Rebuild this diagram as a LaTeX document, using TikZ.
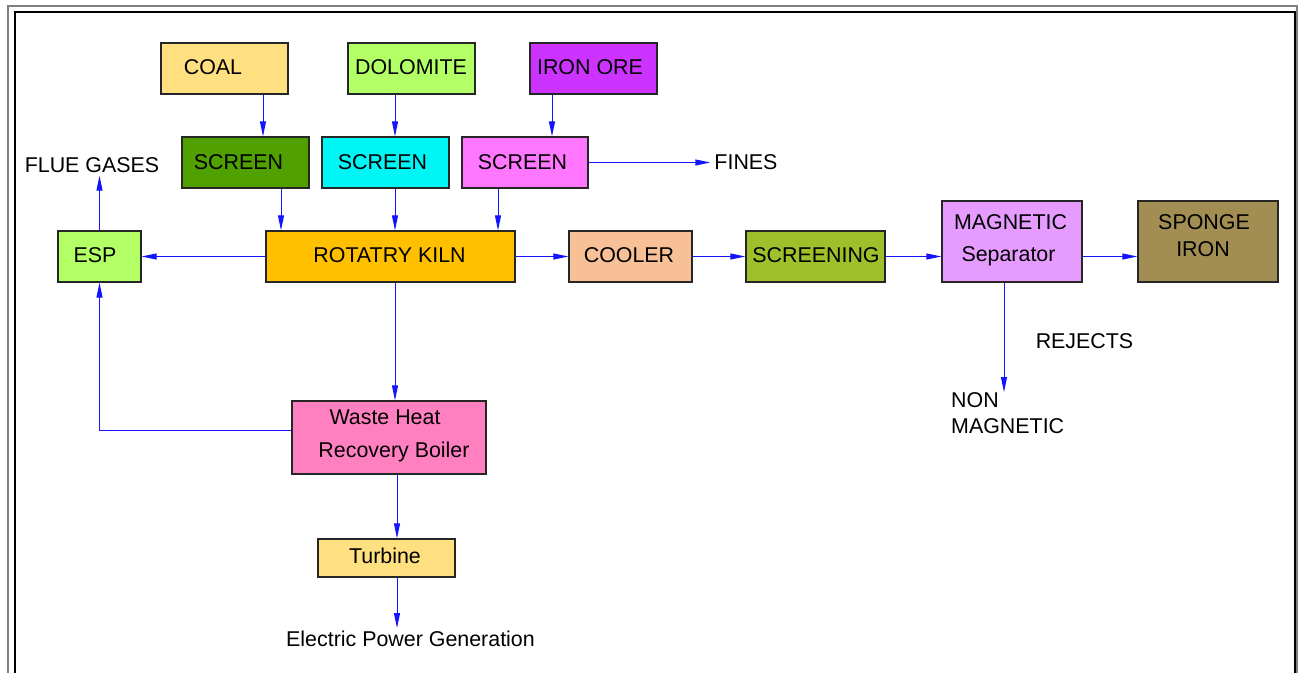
\documentclass[tikz,border=0pt]{standalone}
\usepackage{fontspec}
\setmainfont{Liberation Sans}
\usetikzlibrary{arrows.meta}
\definecolor{coalc}{RGB}{255,224,128}
\definecolor{doloc}{RGB}{178,255,102}
\definecolor{ironc}{RGB}{204,51,255}
\definecolor{scrA}{RGB}{80,160,0}
\definecolor{scrB}{RGB}{0,245,245}
\definecolor{scrC}{RGB}{255,119,255}
\definecolor{kilnc}{RGB}{255,192,0}
\definecolor{coolc}{RGB}{248,192,150}
\definecolor{scrnc}{RGB}{159,192,42}
\definecolor{magc}{RGB}{230,156,255}
\definecolor{spongec}{RGB}{162,142,82}
\definecolor{whrbc}{RGB}{255,128,192}
\definecolor{arrc}{RGB}{20,20,255}
\begin{document}
\begin{tikzpicture}[x=1pt,y=-1pt,
  box/.style={draw=black!85, line width=1.3pt, inner sep=0pt, rectangle},
  txt/.style={anchor=base, inner sep=0pt, font=\fontsize{21.4}{26}\selectfont},
  arr/.style={draw=arrc, line width=1pt, -{Triangle[length=15pt,width=6pt]}},
  ln/.style={draw=arrc, line width=1pt}]
\useasboundingbox (0,0) rectangle (1298,672);
\fill[white] (0,0) rectangle (1298,672);
% frame
\draw[draw=gray, line width=2pt] (8,6) rectangle (1297,700);
\draw[draw=black, line width=1.2pt] (15,12) rectangle (1295,700);
% boxes
\node[box, fill=coalc, minimum width=127pt, minimum height=51pt] (coal) at (224.5,68.5) {};
\node[box, fill=doloc, minimum width=127pt, minimum height=51pt] (dolo) at (411.5,68.5) {};
\node[box, fill=ironc, minimum width=127pt, minimum height=51pt] (iron) at (593.5,68.5) {};
\node[box, fill=scrA, minimum width=127pt, minimum height=51pt] (scra) at (245.5,162.5) {};
\node[box, fill=scrB, minimum width=127pt, minimum height=51pt] (scrb) at (385.5,162.5) {};
\node[box, fill=scrC, minimum width=126pt, minimum height=51pt] (scrc) at (525,162.5) {};
\node[box, fill=doloc, minimum width=83pt, minimum height=51pt] (esp) at (99.5,256.5) {};
\node[box, fill=kilnc, minimum width=249pt, minimum height=51pt] (kiln) at (390.5,256.5) {};
\node[box, fill=coolc, minimum width=123pt, minimum height=51pt] (cool) at (630.5,256.5) {};
\node[box, fill=scrnc, minimum width=139pt, minimum height=51pt] (scrn) at (815.5,256.5) {};
\node[box, fill=magc, minimum width=140pt, minimum height=81pt] (mag) at (1012,241.5) {};
\node[box, fill=spongec, minimum width=140pt, minimum height=81pt] (sponge) at (1208,241.5) {};
\node[box, fill=whrbc, minimum width=194pt, minimum height=73pt] (whrb) at (389,437.5) {};
\node[box, fill=coalc, minimum width=137pt, minimum height=38pt] (turb) at (386.5,558) {};
% texts
\node[txt] (tcoal) at (213,74.7) {COAL};
\node[txt] (tdolo) at (411,74.7) {DOLOMITE};
\node[txt] (tiron) at (590,74.7) {IRON ORE};
\node[txt] (tscra) at (238.5,169.7) {SCREEN};
\node[txt] (tscrb) at (382.5,169.7) {SCREEN};
\node[txt] (tscrc) at (522.5,169.7) {SCREEN};
\node[txt] (fines) at (746,169.7) {FINES};
\node[txt] (flue) at (92,172.7) {FLUE GASES};
\node[txt] (tesp) at (95,262.5) {ESP};
\node[txt] (tkiln) at (389.5,262.5) {ROTATRY KILN};
\node[txt] (tcool) at (629,262.5) {COOLER};
\node[txt] (tscrn) at (816,262.5) {SCREENING};
\node[txt] (tmag1) at (1010.5,229) {MAGNETIC};
\node[txt] (tmag2) at (1008.5,261.7) {Separator};
\node[txt] (tsp1) at (1204,229) {SPONGE};
\node[txt] (tsp2) at (1203,256.5) {IRON};
\node[txt] (rej) at (1084.5,348.7) {REJECTS};
\node[txt, anchor=base west] (non1) at (951,407.2) {NON};
\node[txt, anchor=base west] (non2) at (951,433.7) {MAGNETIC};
\node[txt] (tw1) at (385,424.7) {Waste Heat};
\node[txt] (tw2) at (394,457.2) {Recovery Boiler};
\node[txt] (tturb) at (385,563.7) {Turbine};
\node[txt] (elec) at (410.5,646.2) {Electric Power Generation};
\coordinate (nonend) at (1004,392);
\coordinate (elecend) at (397,628);
% connectors
\draw[arr] ([xshift=38.5pt]coal.south) -- ([xshift=17.5pt]scra.north);
\draw[arr] ([xshift=-16.5pt]dolo.south) -- ([xshift=9.5pt]scrb.north);
\draw[arr] ([xshift=-41.5pt]iron.south) -- ([xshift=27pt]scrc.north);
\draw[arr] ([xshift=35.5pt]scra.south) -- ([xshift=-109.5pt]kiln.north);
\draw[arr] ([xshift=9.5pt]scrb.south) -- ([xshift=4.5pt]kiln.north);
\draw[arr] ([xshift=-27pt]scrc.south) -- ([xshift=107.5pt]kiln.north);
\draw[arr, shorten >=4pt] (scrc.east) -- (scrc.east -| fines.west);
\draw[arr] (kiln.west) -- (esp.east);
\draw[arr, shorten >=3pt] (esp.north) -- (esp.north |- flue.base);
\draw[arr] (kiln.east) -- (cool.west);
\draw[arr] (cool.east) -- (scrn.west);
\draw[arr] (scrn.east) -- (scrn.east -| mag.west);
\draw[arr] (mag.east |- scrn.east) -- (sponge.west |- scrn.east);
\draw[arr] ([xshift=-8pt]mag.south) -- (nonend);
\draw[arr] ([xshift=4.5pt]kiln.south) -- ([xshift=6pt]whrb.north);
\draw[arr] ([yshift=7.5pt]whrb.west) -| (esp.south);
\draw[arr] ([xshift=8pt]whrb.south) -- ([xshift=10.5pt]turb.north);
\draw[arr] ([xshift=10.5pt]turb.south) -- (elecend);
\end{tikzpicture}
\end{document}
